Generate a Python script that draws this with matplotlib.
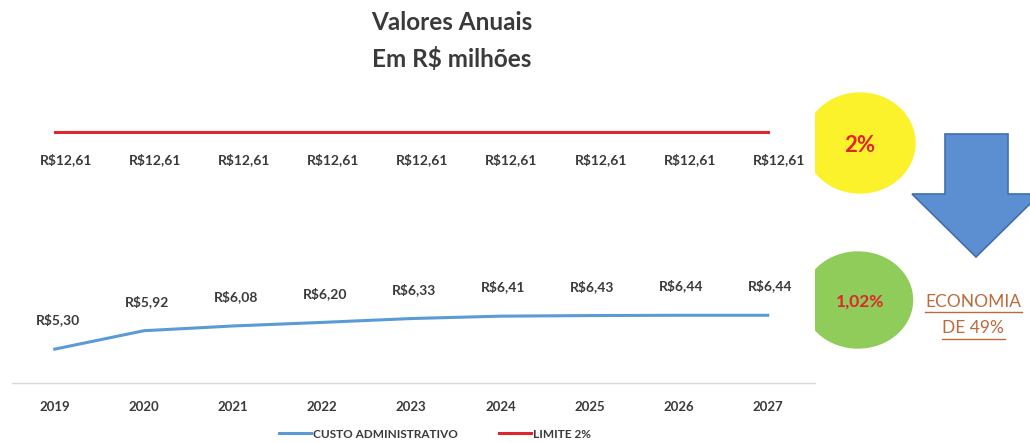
import matplotlib.pyplot as plt
from matplotlib.patches import Ellipse, Polygon

# data
anos = ["2019", "2020", "2021", "2022", "2023", "2024", "2025", "2026", "2027"]
custo_adm = [5.30, 5.92, 6.08, 6.20, 6.33, 6.41, 6.43, 6.44, 6.44]
limite = [12.61, 12.61, 12.61, 12.61, 12.61, 12.61, 12.61, 12.61, 12.61]

plt.rcParams['font.family'] = ['Lato', 'DejaVu Sans']
cinza = '#3a3a3a'
azul = '#5b9bd5'
vermelho = '#e0262c'

fig = plt.figure(figsize=(10.3, 4.43), dpi=100)
ax = fig.add_axes([12 / 1030, 60 / 443, 803 / 1030, 303 / 443])

x = list(range(len(anos)))
ax.plot(x, custo_adm, color=azul, linewidth=2.2, label="CUSTO ADMINISTRATIVO")
ax.plot(x, limite, color=vermelho, linewidth=2.2, label="LIMITE 2%")

# data labels
for i, v in enumerate(limite):
    ax.annotate(f"R${v:.2f}".replace(".", ","), (i, v), xytext=(8, -20),
                textcoords='offset points', ha='center', va='center',
                fontsize=10, fontweight='bold', color=cinza)
for i, v in enumerate(custo_adm):
    ax.annotate(f"R${v:.2f}".replace(".", ","), (i, v), xytext=(2, 21),
                textcoords='offset points', ha='center', va='center',
                fontsize=10, fontweight='bold', color=cinza)

ax.set_xlim(-0.48, 8.53)
ax.set_ylim(4.16, 14.36)
ax.set_xticks(x)
ax.set_xticklabels(anos, fontsize=9.5, fontweight='bold', color=cinza)
ax.tick_params(axis='x', length=0, pad=13)
ax.set_yticks([])
for s in ['top', 'left', 'right']:
    ax.spines[s].set_visible(False)
ax.spines['bottom'].set_color('#d9d9d9')
ax.spines['bottom'].set_linewidth(1)

fig.legend(loc='center', bbox_to_anchor=(435 / 1030, 1 - 434 / 443), ncol=2,
           frameon=False, handlelength=2.7, handletextpad=0.2, columnspacing=3.5,
           prop={'size': 8.5, 'weight': 'bold'}, labelcolor=cinza)

# title
fig.text(452 / 1030, 1 - 23 / 443, "Valores Anuais", ha='center', va='center',
         fontsize=17.5, fontweight='bold', color=cinza)
fig.text(452 / 1030, 1 - 59 / 443, "Em R$ milhões", ha='center', va='center',
         fontsize=17.5, fontweight='bold', color=cinza)

# decorations on the right (pixel coordinates)
deco = fig.add_axes([0, 0, 1, 1], zorder=-1)
deco.set_xlim(0, 1030)
deco.set_ylim(443, 0)
deco.axis('off')
deco.add_patch(Ellipse((860, 143), 110, 100, color='#fbf22c'))
deco.add_patch(Ellipse((858, 300), 109, 96, color='#8fcc5a'))
deco.text(860, 145, "2%", ha='center', va='center', fontsize=16,
          fontweight='bold', color=vermelho)
deco.text(860, 302, "1,02%", ha='center', va='center', fontsize=12.5,
          fontweight='bold', color=vermelho)
seta = [(945, 134), (1008, 134), (1008, 194), (1040, 194), (976, 257),
        (912, 194), (945, 194)]
deco.add_patch(Polygon(seta, closed=True, facecolor='#5b8fd2',
                       edgecolor='#4170ad', linewidth=1.2))
marrom = '#bb6a3c'
deco.text(973, 302, "ECONOMIA", ha='center', va='center', fontsize=12.5,
          color=marrom)
deco.text(973, 328, "DE 49%", ha='center', va='center', fontsize=12.5,
          color=marrom)
deco.plot([925, 1022], [312, 312], color=marrom, linewidth=1)
deco.plot([942, 1005], [339, 339], color=marrom, linewidth=1)

fig.savefig("out.png", dpi=100, facecolor='white')
